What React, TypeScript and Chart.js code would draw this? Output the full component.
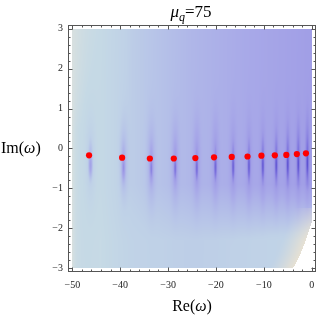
import React, { useEffect, useRef } from "react";
import { Chart, registerables } from "chart.js";
Chart.register(...registerables);

// pole positions (Re, Im)
const poleRe = [-46.5, -39.6, -33.8, -28.8, -24.3, -20.4, -16.7, -13.4, -10.5, -7.7, -5.3, -3.1, -1.2];
const poleIm = [-0.17, -0.23, -0.25, -0.25, -0.24, -0.22, -0.21, -0.2, -0.18, -0.17, -0.16, -0.14, -0.12];
const xTicks = [-50, -40, -30, -20, -10, 0];
const yTicks = [-3, -2, -1, 0, 1, 2, 3];
const xMinorStep = 2;
const yMinorStep = 0.2;
const dataRe = [-50, 0];
const dataIm = [-3, 3];
// boundary of the plotted region (lower-right cut)
const edgeIm = [-3, -2.66, -2.29, -1.91, -1.5];
const edgeRe = [-3.9, -2.44, -1.19, -0.15, 0.9];

const palette: [number, string][] = [
  [0.0, "#d8e0df"],
  [0.13, "#c5d9e5"],
  [0.35, "#bfd1e7"],
  [0.55, "#b4bfe8"],
  [0.8, "#a8a9e8"],
  [1.0, "#a09de6"],
  [1.3, "#8279df"],
  [1.7, "#5e53d2"],
];
// base colour level along Re (fraction of range -> level)
const baseU = [0, 0.12, 0.25, 0.5, 0.8, 1];
const baseT = [0.13, 0.15, 0.4, 0.65, 0.85, 0.98];
const beige = "#ede3d0";

const hex = (h: string) => [parseInt(h.slice(1, 3), 16), parseInt(h.slice(3, 5), 16), parseInt(h.slice(5, 7), 16)];
const palRGB = palette.map(([t, c]) => [t, hex(c)] as [number, number[]]);
const beigeRGB = hex(beige);
const clamp = (v: number) => Math.max(0, Math.min(1, v));

function interp(xs: number[], ys: number[], v: number) {
  if (v <= xs[0]) return ys[0];
  for (let k = 1; k < xs.length; k++) {
    if (v <= xs[k]) {
      const f = (v - xs[k - 1]) / (xs[k] - xs[k - 1]);
      return ys[k - 1] + (ys[k] - ys[k - 1]) * f;
    }
  }
  return ys[ys.length - 1];
}

function palColor(t: number) {
  if (t <= palRGB[0][0]) return palRGB[0][1];
  for (let k = 1; k < palRGB.length; k++) {
    if (t <= palRGB[k][0]) {
      const [ta, ca] = palRGB[k - 1];
      const [tb, cb] = palRGB[k];
      const f = (t - ta) / (tb - ta);
      return [0, 1, 2].map((i) => ca[i] + (cb[i] - ca[i]) * f);
    }
  }
  return palRGB[palRGB.length - 1][1];
}

function edgeAt(y: number) {
  if (y >= edgeIm[edgeIm.length - 1]) return 1e9;
  return interp(edgeIm, edgeRe, y);
}

function fieldColor(x: number, y: number) {
  const xb = edgeAt(y);
  if (x > xb) return null;
  const u = (x - dataRe[0]) / (dataRe[1] - dataRe[0]);
  let t = interp(baseU, baseT, u);
  const grayScale = 0.7 + 2.5 * clamp((y - 0.5) / 2.5);
  t -= 0.13 * Math.exp(-(x - dataRe[0]) / grayScale);
  t -= 0.75 * clamp((-0.9 - y) / 1.4) * Math.pow(u, 1.5);
  for (let i = 0; i < poleRe.length; i++) {
    const pr = poleRe[i] + 0.3;
    const pi = poleIm[i];
    const dx = x - pr;
    const w1 = 0.45 + 0.012 * -pr;
    const g1 = Math.exp(-(dx / w1) * (dx / w1));
    if (g1 < 0.005) continue;
    const dy = y - pi;
    const f1 = 0.26 * Math.exp(-Math.pow((dy + 0.1) / 1.0, 2));
    const w2 = 0.2 + 0.004 * -pr;
    const g2 = Math.exp(-(dx / w2) * (dx / w2));
    const f2 = dy < 0 ? 0.5 * Math.exp(-Math.pow((-dy - 0.25) / 0.3, 2)) : 0.18 * Math.exp(-Math.pow(dy / 0.35, 2));
    t += g1 * f1 + g2 * f2;
  }
  let c = palColor(t);
  const d = xb - x;
  const bw = Math.pow(clamp(1 - d / 5), 1.3) * clamp((-1.1 - y) / 1.2) * 0.85;
  if (bw > 0) c = [0, 1, 2].map((i) => c[i] + (beigeRGB[i] - c[i]) * bw);
  return c;
}

const densityPlugin = {
  id: "density",
  beforeDatasetsDraw(chart: any) {
    const xs = chart.scales.x;
    const ys = chart.scales.y;
    const x0 = Math.round(xs.getPixelForValue(dataRe[0]));
    const x1 = Math.round(xs.getPixelForValue(dataRe[1]));
    const y0 = Math.round(ys.getPixelForValue(dataIm[1]));
    const y1 = Math.round(ys.getPixelForValue(dataIm[0]));
    const w = x1 - x0;
    const h = y1 - y0;
    const off = document.createElement("canvas");
    off.width = w;
    off.height = h;
    const octx = off.getContext("2d")!;
    const img = octx.createImageData(w, h);
    for (let j = 0; j < h; j++) {
      const y = ys.getValueForPixel(y0 + j + 0.5);
      for (let i = 0; i < w; i++) {
        const x = xs.getValueForPixel(x0 + i + 0.5);
        const c = fieldColor(x, y);
        const p = (j * w + i) * 4;
        if (!c) {
          img.data[p + 3] = 0;
          continue;
        }
        img.data[p] = c[0];
        img.data[p + 1] = c[1];
        img.data[p + 2] = c[2];
        img.data[p + 3] = 255;
      }
    }
    octx.putImageData(img, 0, 0);
    chart.ctx.drawImage(off, x0, y0);
  },
};

function drawParts(ctx: CanvasRenderingContext2D, parts: { text: string; font: string; dy?: number }[], x: number, y: number, align: string) {
  const widths = parts.map((p) => {
    ctx.font = p.font;
    return ctx.measureText(p.text).width;
  });
  const total = widths.reduce((a, b) => a + b, 0);
  let cx = align === "center" ? x - total / 2 : x;
  parts.forEach((p, k) => {
    ctx.font = p.font;
    ctx.fillText(p.text, cx, y + (p.dy || 0));
    cx += widths[k];
  });
}

const SERIF = '"Liberation Serif", "Times New Roman", serif';

const framePlugin = {
  id: "frame",
  afterDraw(chart: any) {
    const ctx: CanvasRenderingContext2D = chart.ctx;
    const { left, right, top, bottom } = chart.chartArea;
    const xs = chart.scales.x;
    const ys = chart.scales.y;
    ctx.save();
    ctx.strokeStyle = "#555";
    ctx.lineWidth = 1;
    ctx.strokeRect(left + 0.5, top + 0.5, right - left - 1, bottom - top - 1);
    const majL = 4.5;
    const minL = 2.5;
    ctx.beginPath();
    const xStart = Math.ceil(xs.min / xMinorStep) * xMinorStep;
    for (let v = xStart; v <= xs.max + 1e-9; v += xMinorStep) {
      const isMaj = xTicks.some((t) => Math.abs(t - v) < 1e-6);
      const L = isMaj ? majL : minL;
      const px = Math.round(xs.getPixelForValue(v)) + 0.5;
      ctx.moveTo(px, bottom);
      ctx.lineTo(px, bottom - L);
      ctx.moveTo(px, top);
      ctx.lineTo(px, top + L);
    }
    const yStart = Math.ceil(ys.min / yMinorStep) * yMinorStep;
    for (let v = yStart; v <= ys.max + 1e-9; v += yMinorStep) {
      const isMaj = yTicks.some((t) => Math.abs(t - v) < 1e-6);
      const L = isMaj ? majL : minL;
      const py = Math.round(ys.getPixelForValue(v)) + 0.5;
      ctx.moveTo(left, py);
      ctx.lineTo(left + L, py);
      ctx.moveTo(right, py);
      ctx.lineTo(right - L, py);
    }
    ctx.stroke();

    ctx.fillStyle = "#000";
    ctx.textBaseline = "alphabetic";
    ctx.textAlign = "left";
    // title
    drawParts(
      ctx,
      [
        { text: "\u03bc", font: `italic 17px ${SERIF}` },
        { text: "q", font: `italic 12px ${SERIF}`, dy: 4 },
        { text: "=75", font: `17px ${SERIF}` },
      ],
      191,
      17,
      "center"
    );
    // y label
    drawParts(
      ctx,
      [
        { text: "Im(", font: `16px ${SERIF}` },
        { text: "\u03c9", font: `italic 16px ${SERIF}` },
        { text: ")", font: `16px ${SERIF}` },
      ],
      1,
      153,
      "left"
    );
    // x label
    drawParts(
      ctx,
      [
        { text: "Re(", font: `16px ${SERIF}` },
        { text: "\u03c9", font: `italic 16px ${SERIF}` },
        { text: ")", font: `16px ${SERIF}` },
      ],
      192,
      311,
      "center"
    );
    ctx.restore();
  },
};

const fmt = (v: number) => (v < 0 ? "\u2212" + Math.abs(v) : String(v));

export default function App() {
  const ref = useRef<HTMLCanvasElement>(null);
  useEffect(() => {
    const chart = new Chart(ref.current!, {
      type: "scatter",
      data: {
        datasets: [
          {
            data: poleRe.map((x, i) => ({ x, y: poleIm[i] })),
            backgroundColor: "#ff0000",
            borderWidth: 0,
            pointRadius: 3.1,
            pointHoverRadius: 3.1,
          },
        ],
      },
      options: {
        responsive: false,
        animation: false,
        events: [],
        layout: { autoPadding: false, padding: { top: 25, right: 1, left: 0, bottom: 0 } },
        plugins: { legend: { display: false }, tooltip: { enabled: false }, title: { display: false } },
        scales: {
          x: {
            type: "linear",
            min: -50.9,
            max: 0.9,
            afterBuildTicks: (s: any) => {
              s.ticks = xTicks.map((v) => ({ value: v }));
            },
            afterFit: (s: any) => {
              s.height = 46;
              s.paddingLeft = 0;
              s.paddingRight = 0;
            },
            ticks: {
              font: { family: SERIF, size: 10 },
              color: "#222",
              padding: 7,
              maxRotation: 0,
              autoSkip: false,
              callback: (v: any) => fmt(Number(v)),
            },
            grid: { display: false, drawTicks: false },
            border: { display: false },
          },
          y: {
            type: "linear",
            min: -3.09,
            max: 3.09,
            afterBuildTicks: (s: any) => {
              s.ticks = yTicks.map((v) => ({ value: v }));
            },
            afterFit: (s: any) => {
              s.width = 68;
              s.paddingTop = 0;
              s.paddingBottom = 0;
            },
            ticks: {
              font: { family: SERIF, size: 10 },
              color: "#222",
              padding: 5,
              autoSkip: false,
              callback: (v: any) => fmt(Number(v)),
            },
            grid: { display: false, drawTicks: false },
            border: { display: false },
          },
        },
      },
      plugins: [densityPlugin, framePlugin],
    } as any);
    return () => chart.destroy();
  }, []);
  return (
    <canvas
      ref={ref}
      width={317}
      height={318}
      style={{ position: "absolute", left: 0, top: 0, display: "block", background: "#fff" }}
    />
  );
}
